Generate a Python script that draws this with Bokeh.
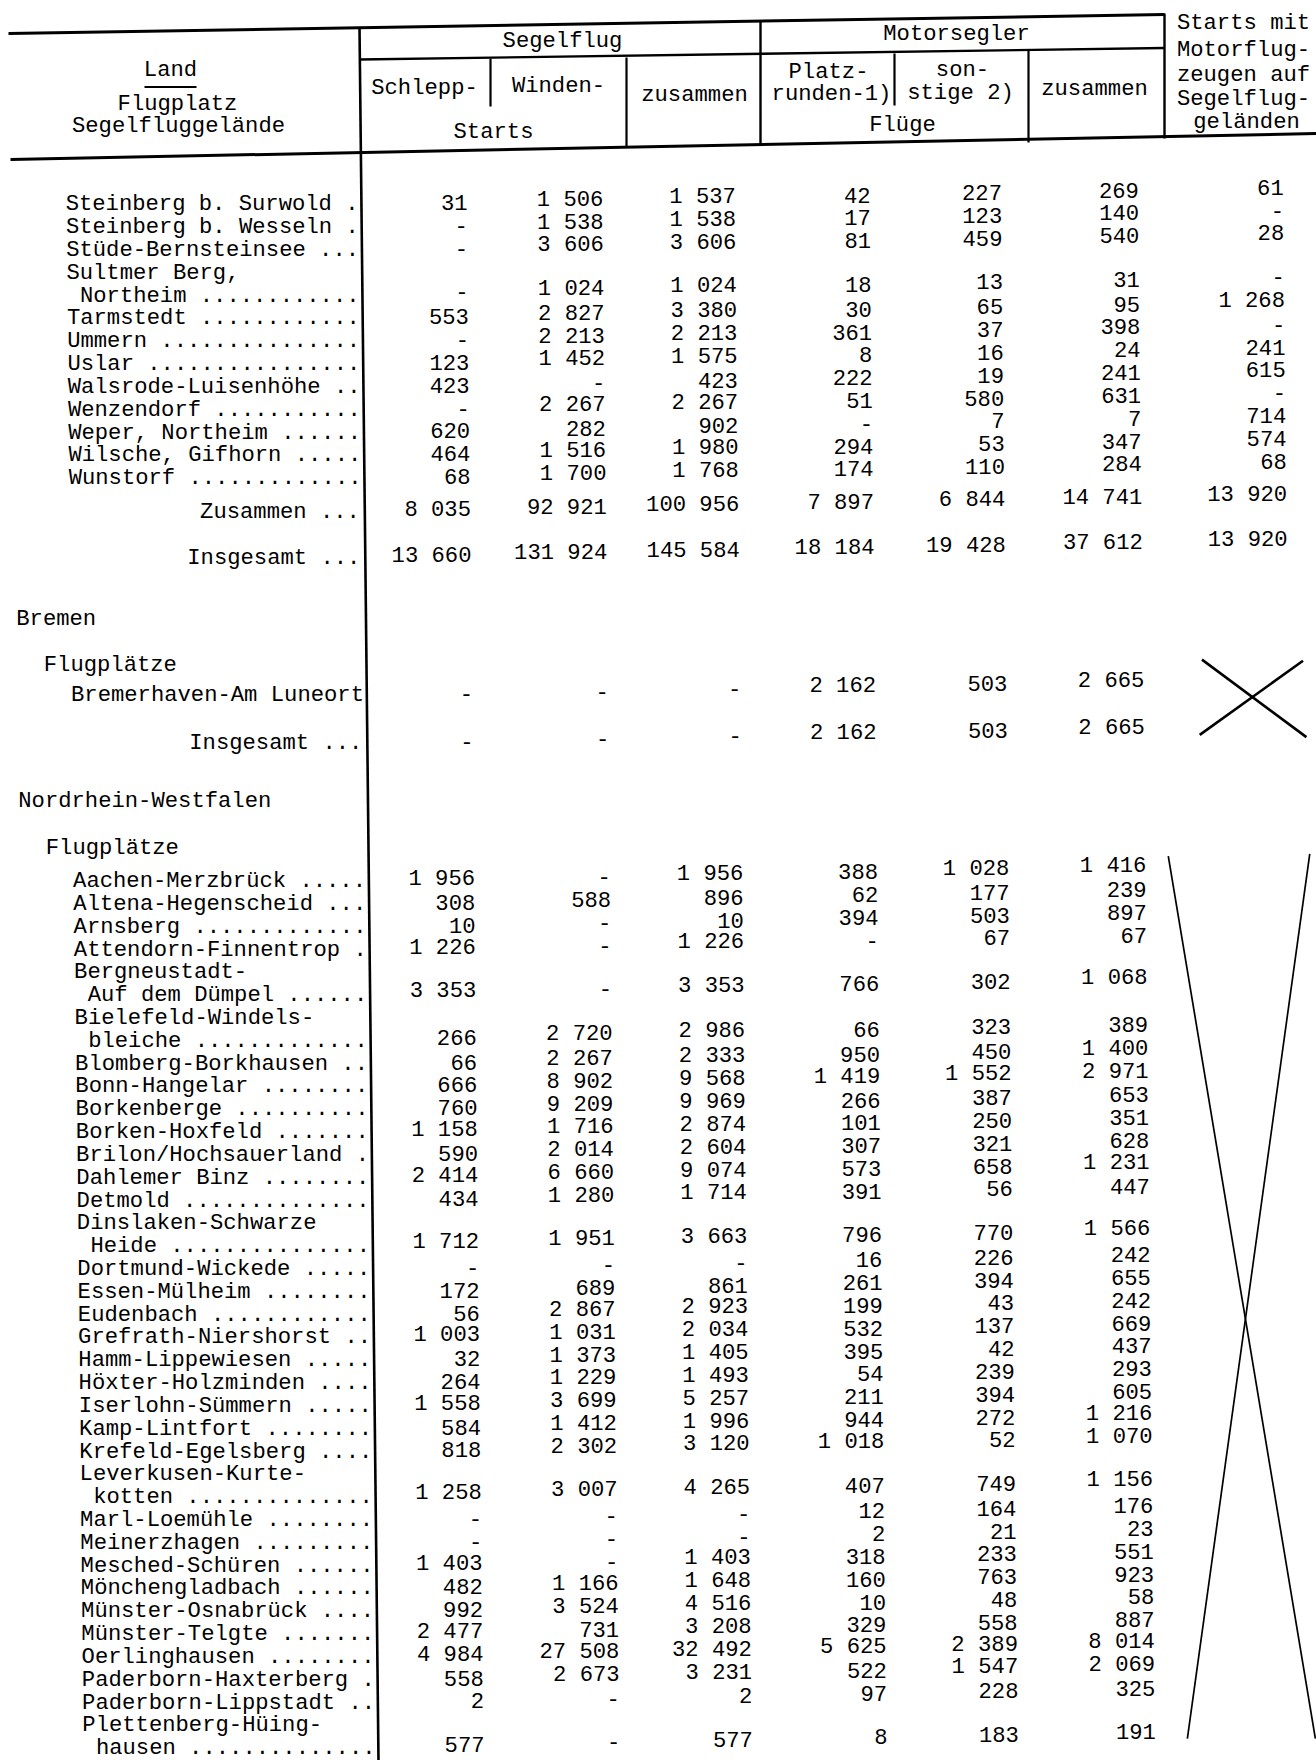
from bokeh.plotting import figure
from bokeh.models import Range1d, ColumnDataSource
from bokeh.core.properties import value
from bokeh.embed import file_html
from bokeh.resources import INLINE

# ---------------- data ----------------
col_headers = ["Schlepp-", "Winden-", "zusammen", "Platz-|runden-1)", "son-|stige 2)", "zusammen",
               "Starts mit|Motorflug-|zeugen auf|Segelflug-|geländen"]
group_headers = ["Segelflug", "Motorsegler"]
unit_headers = ["Starts", "Flüge"]
stub_header = ["Land", "Flugplatz", "Segelfluggelände"]

nds_names = ["Steinberg b. Surwold", "Steinberg b. Wesseln", "Stüde-Bernsteinsee",
             "Sultmer Berg,|Northeim", "Tarmstedt", "Ummern", "Uslar", "Walsrode-Luisenhöhe",
             "Wenzendorf", "Weper, Northeim", "Wilsche, Gifhorn", "Wunstorf"]
nds_schlepp = [31, None, None, None, 553, None, 123, 423, None, 620, 464, 68]
nds_winden = [1506, 1538, 3606, 1024, 2827, 2213, 1452, None, 2267, 282, 1516, 1700]
nds_seg_zus = [1537, 1538, 3606, 1024, 3380, 2213, 1575, 423, 2267, 902, 1980, 1768]
nds_platz = [42, 17, 81, 18, 30, 361, 8, 222, 51, None, 294, 174]
nds_sonst = [227, 123, 459, 13, 65, 37, 16, 19, 580, 7, 53, 110]
nds_mot_zus = [269, 140, 540, 31, 95, 398, 24, 241, 631, 7, 347, 284]
nds_starts = [61, None, 28, None, 1268, None, 241, 615, None, 714, 574, 68]
nds_zusammen = [8035, 92921, 100956, 7897, 6844, 14741, 13920]
nds_insgesamt = [13660, 131924, 145584, 18184, 19428, 37612, 13920]

hb_names = ["Bremerhaven-Am Luneort"]
hb_values = [[None, None, None, 2162, 503, 2665]]
hb_insgesamt = [None, None, None, 2162, 503, 2665]

nrw_names = ["Aachen-Merzbrück", "Altena-Hegenscheid", "Arnsberg", "Attendorn-Finnentrop",
             "Bergneustadt-|Auf dem Dümpel", "Bielefeld-Windels-|bleiche", "Blomberg-Borkhausen",
             "Bonn-Hangelar", "Borkenberge", "Borken-Hoxfeld", "Brilon/Hochsauerland",
             "Dahlemer Binz", "Detmold", "Dinslaken-Schwarze|Heide", "Dortmund-Wickede",
             "Essen-Mülheim", "Eudenbach", "Grefrath-Niershorst", "Hamm-Lippewiesen",
             "Höxter-Holzminden", "Iserlohn-Sümmern", "Kamp-Lintfort", "Krefeld-Egelsberg",
             "Leverkusen-Kurte-|kotten", "Marl-Loemühle", "Meinerzhagen", "Mesched-Schüren",
             "Mönchengladbach", "Münster-Osnabrück", "Münster-Telgte", "Oerlinghausen",
             "Paderborn-Haxterberg", "Paderborn-Lippstadt", "Plettenberg-Hüing-|hausen"]
nrw_schlepp = [1956, 308, 10, 1226, 3353, 266, 66, 666, 760, 1158, 590, 2414, 434, 1712, None,
               172, 56, 1003, 32, 264, 1558, 584, 818, 1258, None, None, 1403, 482, 992, 2477,
               4984, 558, 2, 577]
nrw_winden = [None, 588, None, None, None, 2720, 2267, 8902, 9209, 1716, 2014, 6660, 1280, 1951,
              None, 689, 2867, 1031, 1373, 1229, 3699, 1412, 2302, 3007, None, None, None, 1166,
              3524, 731, 27508, 2673, None, None]
nrw_seg_zus = [1956, 896, 10, 1226, 3353, 2986, 2333, 9568, 9969, 2874, 2604, 9074, 1714, 3663,
               None, 861, 2923, 2034, 1405, 1493, 5257, 1996, 3120, 4265, None, None, 1403, 1648,
               4516, 3208, 32492, 3231, 2, 577]
nrw_platz = [388, 62, 394, None, 766, 66, 950, 1419, 266, 101, 307, 573, 391, 796, 16, 261, 199,
             532, 395, 54, 211, 944, 1018, 407, 12, 2, 318, 160, 10, 329, 5625, 522, 97, 8]
nrw_sonst = [1028, 177, 503, 67, 302, 323, 450, 1552, 387, 250, 321, 658, 56, 770, 226, 394, 43,
             137, 42, 239, 394, 272, 52, 749, 164, 21, 233, 763, 48, 558, 2389, 1547, 228, 183]
nrw_mot_zus = [1416, 239, 897, 67, 1068, 389, 1400, 2971, 653, 351, 628, 1231, 447, 1566, 242,
               655, 242, 669, 437, 293, 605, 1216, 1070, 1156, 176, 23, 551, 923, 58, 887, 8014,
               2069, 325, 191]

# ---------------- layout ----------------
S = 1316 / 1172.0      # body layout is given in reference-thumbnail units
KX = 0.011             # scan skew: x drift per unit y
KY = -0.019            # scan skew: y drift per unit x for number columns
Y0 = 182.0
PITCH = 20.32
LABEL_X = 58.0
CHAR = 11.85
NCH = 22
COLX = [416, 537, 655, 775, 892, 1014, 1143]
LINE_X = 320.0

FONT = value("Liberation Mono")
FSIZE = "22.2px"
INK = "#000000"


def px(xd, yd):
    return (xd + KX * (yd - Y0)) * S


def py(yd):
    return yd * S


def fmt(v):
    return "-" if v is None else f"{v:,}".replace(",", " ")


def dotted(name, width):
    n = width - len(name) - 1
    return name if n <= 0 else name + " " + "." * n


left = dict(x=[], y=[], t=[])
right = dict(x=[], y=[], t=[])


def add(d, xd, yd, t):
    d["x"].append(px(xd, yd))
    d["y"].append(py(yd))
    d["t"].append(t)


def add_numbers(vals, yd):
    for c, v in enumerate(vals):
        yc = yd + KY * (COLX[c] - LINE_X)
        add(right, COLX[c], yc, fmt(v))


def add_named_row(name, vals, line):
    parts = name.split("|")
    yd = Y0 + line * PITCH
    if len(parts) == 2:
        add(left, LABEL_X, yd - PITCH, parts[0])
        add(left, LABEL_X + CHAR, yd, dotted(parts[1], NCH - 1))
        add_numbers(vals, yd - 2)
    else:
        add(left, LABEL_X, yd, dotted(parts[0], NCH))
        add_numbers(vals, yd)


# Niedersachsen (continued)
line = 0
for i, nm in enumerate(nds_names):
    if "|" in nm:
        line += 1
    vals = [nds_schlepp[i], nds_winden[i], nds_seg_zus[i], nds_platz[i], nds_sonst[i],
            nds_mot_zus[i], nds_starts[i]]
    add_named_row(nm, vals, line)
    line += 1

for lbl, vals, ln in [("Zusammen ...", nds_zusammen, 13.5), ("Insgesamt ...", nds_insgesamt, 15.5)]:
    yd = Y0 + ln * PITCH
    add(right, LINE_X - 3, yd, lbl)
    add_numbers(vals, yd)

# Bremen
add(left, 10, Y0 + 18.18 * PITCH, "Bremen")
add(left, 34, Y0 + 20.2 * PITCH, "Flugplätze")
add_named_row(hb_names[0], hb_values[0], 21.52)
yd = Y0 + 23.59 * PITCH
add(right, LINE_X - 3, yd, "Insgesamt ...")
add_numbers(hb_insgesamt, yd)

# Nordrhein-Westfalen
add(left, 10, Y0 + 26.14 * PITCH, "Nordrhein-Westfalen")
add(left, 34, Y0 + 28.2 * PITCH, "Flugplätze")
line = 29.66
for i, nm in enumerate(nrw_names):
    if "|" in nm:
        line += 1
    vals = [nrw_schlepp[i], nrw_winden[i], nrw_seg_zus[i], nrw_platz[i], nrw_sonst[i],
            nrw_mot_zus[i]]
    add_named_row(nm, vals, line)
    line += 1

# header texts, positions in page pixels
hc = dict(x=[], y=[], t=[])
stub_pos = [(170, 70), (177, 104), (178, 126)]
for t, (x, y) in zip(stub_header, stub_pos):
    hc["x"].append(x); hc["y"].append(y); hc["t"].append(t)
for t, (x, y) in zip(group_headers, [(562, 41), (956, 34)]):
    hc["x"].append(x); hc["y"].append(y); hc["t"].append(t)
for t, (x, y) in zip(unit_headers, [(493, 132), (902, 125)]):
    hc["x"].append(x); hc["y"].append(y); hc["t"].append(t)
sub_pos = [[(424, 88)], [(558, 86)], [(694, 95)], [(828, 71.5), (831, 93.5)],
           [(962, 70), (960, 92.5)], [(1094, 88.5)],
           [(1243, 23), (1243, 50), (1243, 75), (1243, 98.5), (1246, 121.5)]]
for h, pos in zip(col_headers, sub_pos):
    for part, (x, y) in zip(h.split("|"), pos):
        hc["x"].append(x); hc["y"].append(y); hc["t"].append(part)

# ---------------- figure ----------------
p = figure(width=1316, height=1760, x_range=Range1d(0, 1316), y_range=Range1d(1760, 0),
           output_backend="svg", toolbar_location=None, x_axis_type=None, y_axis_type=None,
           min_border=0)
p.grid.visible = False
p.outline_line_color = None
p.background_fill_color = "white"
p.border_fill_color = "white"

# rules in page pixels: (x0, y0, x1, y1, width)
segs = [
    (8, 33, 1164, 14, 3.0),          # top rule
    (10, 159, 1316, 133, 3.0),       # header bottom rule
    (359, 59, 1164, 47.5, 2.4),      # under Segelflug / Motorsegler
    (144, 86.5, 196, 86.5, 1.8),     # underline of Land
    (490, 58, 490, 106, 2.2),        # Schlepp | Winden
    (626, 57, 626, 147, 2.2),        # Winden | zusammen
    (760, 21, 760, 145, 2.4),        # Segelflug | Motorsegler
    (894, 53, 894, 105, 2.2),        # Platzrunden | sonstige
    (1028, 50, 1028, 142, 2.2),      # sonstige | zusammen
    (1164, 13, 1164, 138, 2.4),      # last column
    (359, 27, 378, 1760, 2.6),       # stub divider
]
# crosses in the last column (reference-thumbnail units)
for x0, y0, x1, y1, w in [(1070, 587, 1163, 656, 2.6), (1068, 654, 1160, 588, 2.6),
                          (1040, 762, 1171, 1548, 1.7), (1166, 760, 1057, 1548, 1.7)]:
    segs.append((x0 * S, y0 * S, x1 * S, y1 * S, w))

for x0, y0, x1, y1, w in segs:
    p.segment(x0=[x0], y0=[y0], x1=[x1], y1=[y1], line_color=INK, line_width=w)

for d, al in [(left, "left"), (right, "right"), (hc, "center")]:
    if d["t"]:
        p.text(x="x", y="y", text="t", source=ColumnDataSource(d), text_font=FONT,
               text_font_size=FSIZE, text_align=al, text_baseline="middle", text_color=INK)

open("out.html", "w").write(file_html(p, INLINE))
